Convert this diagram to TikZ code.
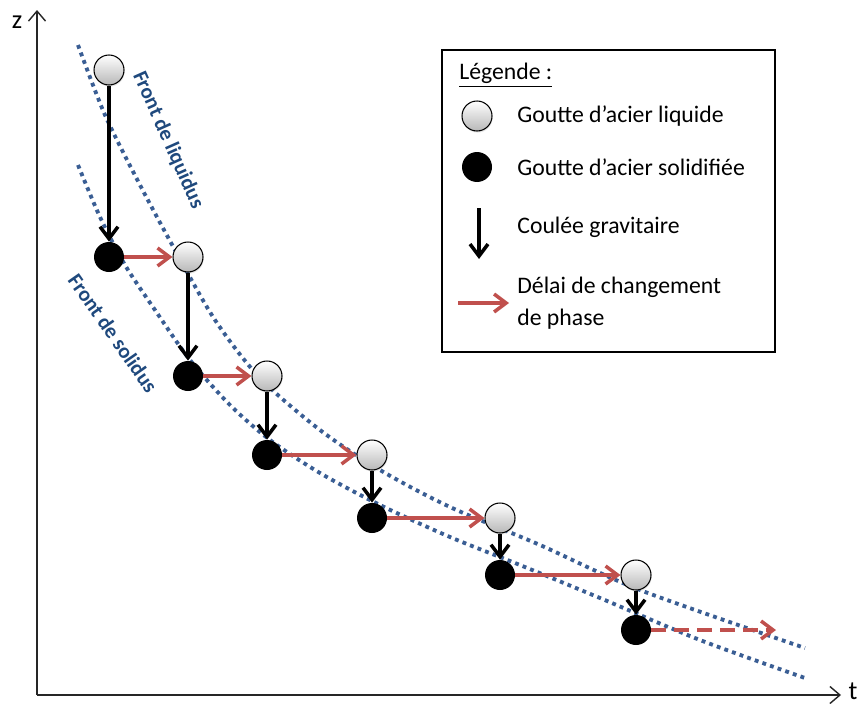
\documentclass[tikz,border=0pt]{standalone}
\usepackage{fontspec}
\setmainfont{Carlito}
\usepackage{tikz}
\usetikzlibrary{arrows.meta,shadows}
\definecolor{frontBlue}{HTML}{3A5E94}
\definecolor{labelBlue}{HTML}{1F497D}
\definecolor{delayRed}{HTML}{C0504D}
\tikzset{
  liquidDrop/.style={circle, draw=black, line width=0.6pt, top color=white, bottom color=black!28, minimum size=0.6cm, inner sep=0pt, drop shadow={opacity=0.2, shadow xshift=0.4pt, shadow yshift=-0.9pt}},
  solidDrop/.style={circle, fill=black, minimum size=0.6cm, inner sep=0pt},
  fall/.style={-{Straight Barb[length=2.4mm,width=3.6mm]}, line width=2pt, black},
  delay/.style={-{Straight Barb[length=2.4mm,width=3.6mm]}, line width=2pt, delayRed},
  front/.style={frontBlue, line width=2.2pt, dash pattern=on 2.2pt off 2.4pt},
  frontlbl/.style={font=\fontsize{12}{14}\selectfont\bfseries, text=labelBlue},
  lgd/.style={font=\fontsize{13.5}{18}\selectfont, anchor=west, align=left, inner sep=0pt},
  axis/.style={-{Straight Barb[length=2mm,width=3.4mm]}, line width=0.8pt, black!85},
  axislbl/.style={font=\fontsize{15}{17}\selectfont, inner sep=0pt},
}
\begin{document}
\begin{tikzpicture}[x=0.02cm, y=-0.02cm]
\useasboundingbox (0,0) rectangle (864,703);
% axes
\coordinate (origin) at (37,695);
\coordinate (zEnd) at (37,10);
\coordinate (tEnd) at (841,695);
\draw[axis] (origin) -- (zEnd);
\draw[axis] (origin) -- (tEnd);
\node[axislbl] (zLbl) at (17,22) {z};
\node[axislbl] (tLbl) at (853,691) {t};
% fronts
\draw[front] plot[smooth] coordinates {(78,45) (105,115) (140,185) (175,250) (215,320) (260,378) (320,430) (380,470) (450,507) (540,545) (640,590) (805,648)};
\draw[front] plot[smooth] coordinates {(78,165) (100,217) (125,265) (155,310) (190,360) (230,405) (270,440) (320,473) (380,505) (450,537) (520,565) (600,598) (700,640) (805,678)};
\node[frontlbl, rotate=-66] (liqLbl) at (168,140) {Front de liquidus};
\node[frontlbl, rotate=-55] (solLbl) at (113,333) {Front de solidus};
% drops
\node[liquidDrop] (l1) at (109,70) {};
\node[solidDrop] (s1) at (109,257) {};
\node[liquidDrop] (l2) at (188,257) {};
\node[solidDrop] (s2) at (188,376) {};
\node[liquidDrop] (l3) at (267,376) {};
\node[solidDrop] (s3) at (267,455) {};
\node[liquidDrop] (l4) at (372,455) {};
\node[solidDrop] (s4) at (372,518) {};
\node[liquidDrop] (l5) at (500,518) {};
\node[solidDrop] (s5) at (500,575) {};
\node[liquidDrop] (l6) at (636,575) {};
\node[solidDrop] (s6) at (636,630) {};
\coordinate (tail) at (776,630);
% gravity flow
\draw[fall] (l1) -- (s1);
\draw[fall] (l2) -- (s2);
\draw[fall] (l3) -- (s3);
\draw[fall] (l4) -- (s4);
\draw[fall] (l5) -- (s5);
\draw[fall] (l6) -- (s6);
% phase change delay
\draw[delay] (s1) -- (l2);
\draw[delay] (s2) -- (l3);
\draw[delay] (s3) -- (l4);
\draw[delay] (s4) -- (l5);
\draw[delay] (s5) -- (l6);
\draw[delay, dash pattern=on 8.5pt off 4.5pt] (s6) -- (tail);
% legend
\draw[line width=1pt] (442,50) rectangle (775,352);
\node[lgd] (lgdTitle) at (459,75) {\underline{Légende :}};
\node[liquidDrop] (keyLiquid) at (477,116) {};
\node[lgd] (txtLiquid) at (517,116) {Goutte d’acier liquide};
\node[solidDrop] (keySolid) at (477,167) {};
\node[lgd] (txtSolid) at (517,167) {Goutte d’acier solidifiée};
\coordinate (keyFallTop) at (479,208);
\coordinate (keyFallEnd) at (479,259);
\draw[fall] (keyFallTop) -- (keyFallEnd);
\node[lgd] (txtFall) at (517,227) {Coulée gravitaire};
\coordinate (keyDelayStart) at (458,303);
\coordinate (keyDelayEnd) at (509,303);
\draw[delay] (keyDelayStart) -- (keyDelayEnd);
\node[lgd] (txtDelay) at (517,303) {Délai de changement\\de phase};
\end{tikzpicture}
\end{document}
